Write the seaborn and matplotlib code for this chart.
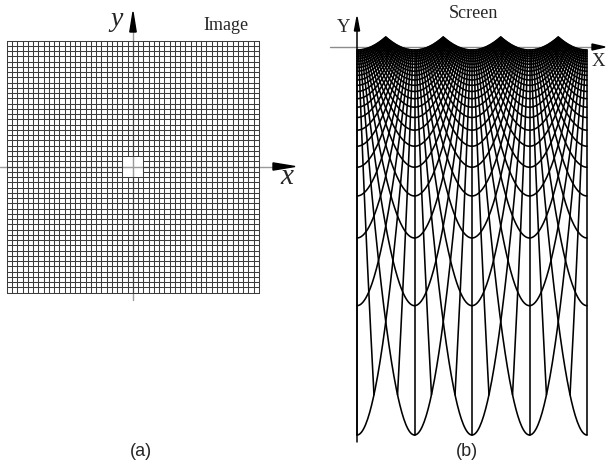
import numpy as np
import pandas as pd
import matplotlib
matplotlib.use("Agg")
import matplotlib.pyplot as plt
import seaborn as sns
from matplotlib.patches import Polygon

# ---------------- data ----------------
HALF = 24                      # image grid half-size (cells)
HOLE = 2                       # half-size of the empty centre square (cells)
grid_values = np.arange(-HALF, HALF + 1)     # grid line positions
r_ref = [2, 24]                # radii used to anchor the screen mapping
Y_ref = [-388, -3]             # screen Y of those radii
P_EXP = 0.87                   # radial exponent of the screen mapping
panel_labels = ["(a)", "(b)"]
titles = ["Image", "Screen"]
axis_names_img = ["x", "y"]
axis_names_scr = ["X", "Y"]

# ---------------- figure ----------------
W, H = 607, 466
sns.set_style("white")
fig = plt.figure(figsize=(W / 100, H / 100), dpi=100)

def fx(px):
    return px / W

def fy(py):
    return 1 - py / H

# ---- panel (a) axes: 5.25 px per cell, centre at (133, 166.5) px
S = 5.25
CX, CY = 133.0, 166.5
ax_a = fig.add_axes([0, 0, 310 / W, 1])
ax_a.set_xlim((0 - CX) / S, (310 - CX) / S)
ax_a.set_ylim((CY - H) / S, CY / S)
ax_a.axis("off")

# grid segments (skip inside the hole)
segs = []
for v in grid_values:
    ranges = [(-HALF, -HOLE), (HOLE, HALF)] if abs(v) < HOLE else [(-HALF, HALF)]
    for a, b in ranges:
        segs.append(("h", v, a, b))
        segs.append(("v", v, a, b))

rows = []
for k, (o, v, a, b) in enumerate(segs):
    for t in (a, b):
        if o == "h":
            rows.append((k, t, v))
        else:
            rows.append((k, v, t))
dfa = pd.DataFrame(rows, columns=["seg", "x", "y"])

# axes lines of panel (a)
ax_a.plot([(0 - CX) / S, (274 - CX) / S], [0, 0], color="#9a9a9a", lw=1.0, zorder=1)
ax_a.plot([0, 0], [(CY - 300) / S, (CY - 31) / S], color="#9a9a9a", lw=1.0, zorder=1)
sns.lineplot(data=dfa, x="x", y="y", units="seg", estimator=None, sort=False,
             color="#3c3c3c", linewidth=0.75, ax=ax_a, zorder=2)
ax_a.axis("off")
ax_a.add_patch(Polygon([[(295 - CX) / S, 0], [(273 - CX) / S, 3.6 / S],
                        [(273 - CX) / S, -3.6 / S]], closed=True,
                       color="black", zorder=3))
ax_a.add_patch(Polygon([[0, (CY - 12) / S], [-3.2 / S, (CY - 32) / S],
                        [3.2 / S, (CY - 32) / S]], closed=True,
                       color="black", zorder=3))

# ---- panel (b) axes: X in degrees (0..360 -> 357..587 px), Y in px above axis line at py=47
DEG = (587 - 357) / 360.0
X0 = 357.0
YA = 47.0
ax_b = fig.add_axes([320 / W, 0, (W - 320) / W, 1])
ax_b.set_xlim((320 - X0) / DEG, (W - X0) / DEG)
ax_b.set_ylim(YA - H, YA)
ax_b.axis("off")

C = (Y_ref[1] - Y_ref[0]) / (r_ref[0] ** -P_EXP - r_ref[1] ** -P_EXP)
A = Y_ref[1] + C * r_ref[1] ** -P_EXP

def mapY(r):
    return A - C * r ** (-P_EXP)

rows = []
uid = 0
for (o, v, a, b) in segs:
    pieces = [(a, 0), (0, b)] if a < 0 < b else [(a, b)]
    for (p, q) in pieces:
        t = np.linspace(p, q, 400)
        if o == "h":
            x = t
            y = np.full_like(t, float(v))
        else:
            x = np.full_like(t, float(v))
            y = t
        xm, ym = x.mean(), y.mean()
        r = np.hypot(x, y)
        Y = mapY(r)
        if v == 0:
            if o == "h":
                thetas = [0.0, 360.0] if xm > 0 else [180.0]
            else:
                thetas = [90.0] if ym > 0 else [270.0]
            for th in thetas:
                for yy in Y:
                    rows.append((uid, th, yy))
                uid += 1
            continue
        th = np.mod(np.degrees(np.arctan2(y, x)), 360.0)
        if xm > 0 and ym < 0:
            th[th < 1e-9] = 360.0
        for a1, b1 in zip(th, Y):
            rows.append((uid, a1, b1))
        uid += 1
dfb = pd.DataFrame(rows, columns=["seg", "X", "Y"])

# axes lines of panel (b)
ax_b.plot([(330 - X0) / DEG, (594 - X0) / DEG], [0, 0], color="#8c8c8c", lw=1.0, zorder=1)
sns.lineplot(data=dfb, x="X", y="Y", units="seg", estimator=None, sort=False,
             color="black", linewidth=1.15, ax=ax_b, zorder=2)
ax_b.axis("off")
ax_b.plot([0, 0], [YA - 442, YA - 29], color="black", lw=1.1, zorder=3)
ax_b.add_patch(Polygon([[(605 - X0) / DEG, 0], [(592 - X0) / DEG, 3.0],
                        [(592 - X0) / DEG, -3.0]], closed=True,
                       color="black", zorder=3))
ax_b.add_patch(Polygon([[0, YA - 17], [-2.6 / DEG, YA - 31], [2.6 / DEG, YA - 31]],
                       closed=True, color="black", zorder=3))

# ---------------- texts ----------------
serif = ["Liberation Serif", "DejaVu Serif"]
sans = ["Liberation Sans", "DejaVu Sans"]
fig.text(fx(226), fy(26), titles[0], family=serif, fontsize=13, ha="center", va="center")
fig.text(fx(473), fy(13), titles[1], family=serif, fontsize=13, ha="center", va="center")
fig.text(fx(287), fy(177), axis_names_img[0], family=serif, style="italic", fontsize=21,
         ha="center", va="center")
fig.text(fx(117), fy(19), axis_names_img[1], family=serif, style="italic", fontsize=20,
         ha="center", va="center")
fig.text(fx(598), fy(61), axis_names_scr[0], family=serif, fontsize=13.5, ha="center", va="center")
fig.text(fx(344), fy(28), axis_names_scr[1], family=serif, fontsize=13.5, ha="center", va="center")
fig.text(fx(141), fy(452), panel_labels[0], family=sans, fontsize=13, ha="center", va="center")
fig.text(fx(467), fy(451), panel_labels[1], family=sans, fontsize=13, ha="center", va="center")

fig.savefig("out.png", dpi=100)
